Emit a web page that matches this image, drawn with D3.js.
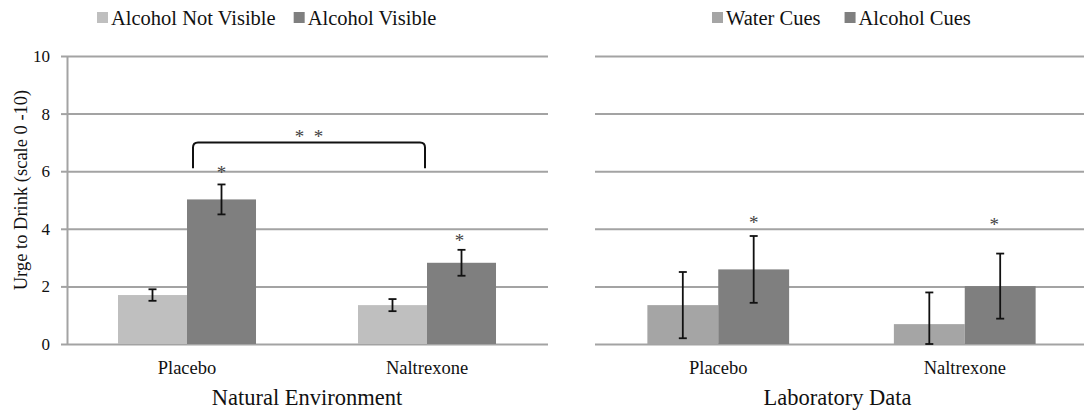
<!DOCTYPE html>
<html>
<head>
<meta charset="utf-8">
<script src="https://cdn.jsdelivr.net/npm/d3@7"></script>
<style>
  html, body { margin: 0; padding: 0; background: #fff; }
  svg { display: block; font-family: "Liberation Serif", "Times New Roman", serif; }
</style>
</head>
<body>
<svg id="chart" width="1084" height="416"></svg>
<script>
// ---- data ----
const conditions = ["Placebo", "Naltrexone"];
const yTicks = [0, 2, 4, 6, 8, 10];

// Natural environment
const natSeries = ["Alcohol Not Visible", "Alcohol Visible"];
const natNotVisible = [1.70, 1.35];
const natNotVisibleErr = [0.20, 0.21];
const natVisible = [5.02, 2.82];
const natVisibleErr = [0.52, 0.45];
const natStars = [6.08, 3.72];       // "*" above the Alcohol Visible bars
const natBracket = [6.1, 7.0];       // bracket foot / top, "* *" between conditions

// Laboratory data
const labSeries = ["Water Cues", "Alcohol Cues"];
const labWater = [1.35, 0.69];
const labWaterErr = [1.15, 1.10];
const labAlcohol = [2.59, 2.01];
const labAlcoholErr = [1.16, 1.13];
const labStars = [4.34, 4.28];

const panelTitles = ["Natural Environment", "Laboratory Data"];
const yTitle = "Urge to Drink (scale 0 -10)";

// ---- layout ----
const svg = d3.select("#chart");
const W = 1084, plotTop = 56, plotBottom = 344;
const y = d3.scaleLinear().domain([0, 10]).range([plotBottom, plotTop]);

const panels = [
  {
    x0: 67, x1: 547, gridEnd: 548, series: natSeries,
    colors: ["#bfbfbf", "#7f7f7f"],
    values: [natNotVisible, natVisible], errs: [natNotVisibleErr, natVisibleErr],
    stars: natStars, title: panelTitles[0], legendX: 97, legendGap: 18, axis: true
  },
  {
    x0: 595, x1: 1088, gridEnd: W, series: labSeries,
    colors: ["#a5a5a5", "#7f7f7f"],
    values: [labWater, labAlcohol], errs: [labWaterErr, labAlcoholErr],
    stars: labStars, title: panelTitles[1], legendX: 712, legendGap: 24, axis: false
  }
];

const clip = svg.append("defs").append("clipPath").attr("id", "frame");
clip.append("rect").attr("x", 0).attr("y", 0).attr("width", W).attr("height", 416);

const root = svg.append("g").attr("clip-path", "url(#frame)");

panels.forEach((p, pi) => {
  const g = root.append("g");
  const x = d3.scaleBand().domain(conditions).range([p.x0, p.x1]).padding(0);
  const xs = d3.scaleBand().domain(p.series).range([0, x.bandwidth()])
    .paddingInner(0).paddingOuter(0.739);

  // gridlines
  const grid = g.append("g").attr("transform", `translate(${p.x0},0)`)
    .call(d3.axisLeft(y).tickValues(yTicks).tickSize(-(p.gridEnd - p.x0)).tickFormat(""));
  grid.select(".domain").remove();
  grid.selectAll("line").attr("stroke", "#a3a3a3").attr("stroke-width", 2);

  if (p.axis) {
    const ax = g.append("g").attr("transform", `translate(${p.x0},0)`)
      .call(d3.axisLeft(y).tickValues(yTicks).tickSizeInner(6).tickSizeOuter(0).tickPadding(11));
    ax.select(".domain").attr("stroke", "#a3a3a3").attr("stroke-width", 2);
    ax.selectAll(".tick line").attr("stroke", "#a3a3a3").attr("stroke-width", 2);
    ax.selectAll(".tick text")
      .attr("font-family", "Liberation Serif").attr("font-size", 17).attr("fill", "#111");
  }

  // bars
  p.series.forEach((s, si) => {
    g.append("g").selectAll("rect")
      .data(conditions.map((c, ci) => ({ c, v: p.values[si][ci] })))
      .join("rect")
      .attr("x", d => x(d.c) + xs(s))
      .attr("width", xs.bandwidth())
      .attr("y", d => y(d.v))
      .attr("height", d => y(0) - y(d.v))
      .attr("fill", p.colors[si]);
  });

  // error bars
  p.series.forEach((s, si) => {
    const eg = g.append("g").attr("stroke", "#111").attr("stroke-width", 1.8);
    conditions.forEach((c, ci) => {
      const v = p.values[si][ci], e = p.errs[si][ci];
      const cx = x(c) + xs(s) + xs.bandwidth() / 2;
      const hi = y(v + e), lo = y(Math.max(0, v - e));
      eg.append("line").attr("x1", cx).attr("x2", cx).attr("y1", hi).attr("y2", lo);
      eg.append("line").attr("x1", cx - 4).attr("x2", cx + 4).attr("y1", hi).attr("y2", hi);
      eg.append("line").attr("x1", cx - 4).attr("x2", cx + 4).attr("y1", lo).attr("y2", lo);
    });
  });

  // significance stars above the alcohol bars
  conditions.forEach((c, ci) => {
    const cx = x(c) + xs(p.series[1]) + xs.bandwidth() / 2 - (pi === 1 && ci === 1 ? 6 : (ci === 1 ? 2 : 0));
    g.append("text")
      .attr("x", cx).attr("y", y(p.stars[ci]) + 10)
      .attr("text-anchor", "middle")
      .attr("font-size", 19).attr("fill", "#444")
      .text("*");
  });

  // category labels
  g.append("g").selectAll("text").data(conditions).join("text")
    .attr("x", d => x(d) + x.bandwidth() / 2).attr("y", 374)
    .attr("text-anchor", "middle").attr("font-size", 18.5).attr("fill", "#111")
    .text(d => d);

  // panel title
  g.append("text")
    .attr("x", (p.x0 + Math.min(p.x1, W - 4)) / 2).attr("y", 405)
    .attr("text-anchor", "middle").attr("font-size", 22.5).attr("fill", "#111")
    .text(p.title);

  // legend
  let lx = p.legendX;
  p.series.forEach((s, si) => {
    g.append("rect").attr("x", lx).attr("y", 12).attr("width", 11).attr("height", 11)
      .attr("fill", p.colors[si]);
    const t = g.append("text").attr("x", lx + 14).attr("y", 25)
      .attr("font-size", 20.5).attr("fill", "#111").text(s);
    lx += 14 + t.node().getComputedTextLength() + p.legendGap;
  });

  // bracket between the two conditions (natural environment only)
  if (pi === 0) {
    const bx0 = x(conditions[0]) + x.bandwidth() / 2 + 6;
    const bx1 = x(conditions[1]) + x.bandwidth() / 2 - 2;
    const yb = y(natBracket[0]), yt = y(natBracket[1]);
    const r = 5;
    const path = d3.path();
    path.moveTo(bx0, yb);
    path.lineTo(bx0, yt + r);
    path.quadraticCurveTo(bx0, yt, bx0 + r, yt);
    path.lineTo(bx1 - r, yt);
    path.quadraticCurveTo(bx1, yt, bx1, yt + r);
    path.lineTo(bx1, yb);
    g.append("path").attr("d", path.toString())
      .attr("fill", "none").attr("stroke", "#111").attr("stroke-width", 2);
    g.append("text")
      .attr("x", (bx0 + bx1) / 2).attr("y", yt + 1)
      .attr("text-anchor", "middle").attr("font-size", 19).attr("fill", "#444")
      .style("white-space", "pre")
      .text("*  *");
  }
});

// y axis title
svg.append("text")
  .attr("transform", "translate(27,190) rotate(-90)")
  .attr("text-anchor", "middle").attr("font-size", 18.5).attr("fill", "#111")
  .text(yTitle);
</script>
</body>
</html>
